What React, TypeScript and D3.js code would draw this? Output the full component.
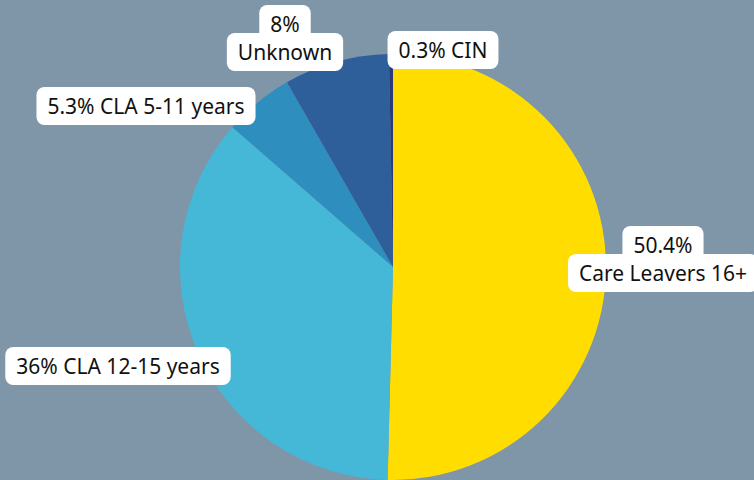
import React from "react";
import * as d3 from "d3";

const categories = ["Care Leavers 16+", "CLA 12-15 years", "CLA 5-11 years", "Unknown", "CIN"];
const values = [50.4, 36, 5.3, 8, 0.3];
const colors = ["#FFDD00", "#45B8D8", "#2E8FBF", "#2F5F9A", "#2A3A78"];
// label lines per category
const labelLines = [
  ["50.4%", "Care Leavers 16+"],
  ["36% CLA 12-15 years"],
  ["5.3% CLA 5-11 years"],
  ["8%", "Unknown"],
  ["0.3% CIN"],
];
// label anchor centers (x center, y top)
const labelPos = [
  [663, 226],
  [118, 347],
  [146, 87],
  [285, 5],
  [443, 31],
];

const W = 754;
const H = 480;
const FONT = "'Noto Sans', sans-serif";
const FS = 21;
const STEP = 28;

function textWidth(s: string): number {
  const c = document.createElement("canvas").getContext("2d")!;
  c.font = `${FS}px 'Noto Sans'`;
  return c.measureText(s).width;
}

export default function App() {
  const cx = 393, cy = 267, r = 213;
  const pie = d3.pie<number>().sort(null).value((d) => d);
  const arcs = pie(values);
  const arcGen = d3.arc<d3.PieArcDatum<number>>().innerRadius(0).outerRadius(r);
  return (
    <svg width={W} height={H} style={{ position: "absolute", left: 0, top: 0, display: "block" }}>
      <rect x={0} y={0} width={W} height={H} fill="#7F95A8" />
      <g transform={`translate(${cx},${cy})`}>
        {arcs.map((a, i) => (
          <path key={i} d={arcGen(a) || ""} fill={colors[i]} />
        ))}
      </g>
      {labelLines.map((lines, i) => {
        const [x, y] = labelPos[i];
        return (
          <g key={"l" + i}>
            {lines.map((ln, j) => {
              const w = textWidth(ln) + 22;
              return (
                <rect key={j} x={x - w / 2} y={y + j * STEP} width={w} height={38} rx={8} fill="#FFFFFF" />
              );
            })}
            {lines.map((ln, j) => (
              <text key={"t" + j} x={x} y={y + j * STEP + 27} textAnchor="middle" fontFamily={FONT} fontSize={FS} fill="#111">
                {ln}
              </text>
            ))}
          </g>
        );
      })}
    </svg>
  );
}
